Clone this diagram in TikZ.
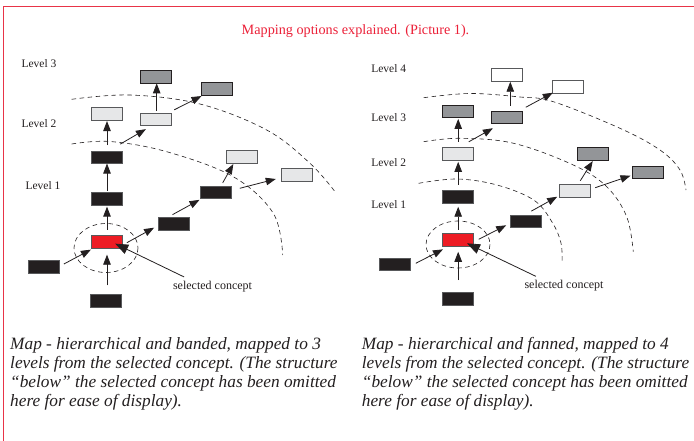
\documentclass[tikz,border=0pt]{standalone}
\usepackage{fontspec}
\setmainfont{Liberation Serif}
\usetikzlibrary{arrows.meta,calc}
\definecolor{framered}{RGB}{232,52,72}
\definecolor{titlered}{RGB}{236,32,56}
\definecolor{ink}{RGB}{35,31,32}
\definecolor{boxblack}{RGB}{35,31,32}
\definecolor{boxlight}{RGB}{230,231,232}
\definecolor{boxgray}{RGB}{147,149,152}
\definecolor{boxred}{RGB}{237,28,36}
\definecolor{edgegray}{RGB}{88,89,91}
\begin{document}
\begin{tikzpicture}[x=1pt,y=-1pt,
  cbox/.style={draw=edgegray, line width=0.7pt, minimum width=31pt, minimum height=12.7pt, inner sep=0pt, outer sep=0pt},
  blk/.style={cbox, fill=boxblack},
  lgt/.style={cbox, fill=boxlight},
  gry/.style={cbox, fill=boxgray, draw=ink},
  wht/.style={cbox, fill=white},
  rdb/.style={cbox, fill=boxred},
  arr/.style={draw=ink, line width=0.8pt, -{Triangle[length=10pt,width=7.5pt]}},
  bigarr/.style={draw=ink, line width=0.8pt, -{Triangle[length=13pt,width=10pt]}},
  band/.style={draw=ink, dash pattern=on 4.5pt off 3.5pt, line width=0.6pt},
  lvl/.style={font=\fontsize{11.5}{13}\selectfont, text=ink, inner sep=0pt},
  capt/.style={font=\fontsize{17.3}{19.2}\selectfont\itshape, text=ink, align=left, anchor=north west, inner sep=0pt},
]
\useasboundingbox (0,0) rectangle (694,441);
\fill[white] (0,0) rectangle (694,441);
\draw[framered, line width=1.3pt] (3.5,441) -- (3.5,6.5) -- (694,6.5);

\node[font=\fontsize{14.2}{16}\selectfont, text=titlered, inner sep=0pt] (title) at (355.5,30.7) {Mapping options explained. (Picture 1).};

% ---------------- left panel ----------------
\node[lvl] (l3L) at (39,63.3) {Level 3};
\node[lvl] (l2L) at (39,123.3) {Level 2};
\node[lvl] (l1L) at (43,185.7) {Level 1};

\draw[band] plot[smooth, tension=0.6] coordinates {(71.7,99.3) (130,95) (200,104) (266.7,130) (310,163.3) (335,191.7)};
\draw[band] plot[smooth, tension=0.6] coordinates {(71.7,144) (110,141.5) (166.7,151.7) (233.3,176.7) (273.3,213.3) (282.7,255)};
\draw[band] (106,248) ellipse[x radius=32, y radius=24.5];

\node[gry] (A3a) at (155.5,77) {};
\node[gry] (A3b) at (217,89) {};
\node[lgt] (A2a) at (107,114) {};
\node[lgt] (A2b) at (156,119.5) {};
\node[blk] (A1b) at (107,157.5) {};
\node[lgt] (Alc) at (242,156.7) {};
\node[lgt] (Ald) at (297,175) {};
\node[blk] (A1a) at (107,199) {};
\node[blk] (Abr) at (216,192.5) {};
\node[blk] (Abm) at (174.3,224) {};
\node[rdb] (AR) at (107,242) {};
\node[blk] (ABL) at (43.7,267) {};
\node[blk] (ABB) at (106.3,301) {};
\node[font=\fontsize{12}{14}\selectfont, text=ink, inner sep=0pt] (selL) at (212.5,287) {selected concept};

\draw[arr] ($(ABB.north)+(0.7,-9.3)$) -- ($(AR.south)+(0,6.3)$);
\draw[arr] ($(ABL.east)+(4.7,-3)$) -- ($(AR.south west)+(-0.6,1.3)$);
\draw[arr] ($(AR.north)+(0,-6)$) -- ($(A1a.south)+(0,1.3)$);
\draw[arr] ($(A1a.north)+(0,-2)$) -- ($(A1b.south)+(0,-0.3)$);
\draw[arr] ($(A1b.north)+(0,-6)$) -- ($(A2a.south)+(0,0.7)$);
\draw[arr] ($(A1b.north east)+(-2.3,-7)$) -- ($(A2b.south west)+(5.4,3.3)$);
\draw[arr] ($(A2b.north)+(0.7,-2.3)$) -- ($(A3a.south)+(1.2,0)$);
\draw[arr] ($(A2b.north east)+(2.7,-3.3)$) -- ($(A3b.south west)+(0,0.7)$);
\draw[arr] ($(AR.east)+(4.4,0.7)$) -- ($(Abm.west)+(-4.7,3.7)$);
\draw[arr] ($(Abm.north east)+(-17.3,-3)$) -- ($(Abr.south west)+(-1,1)$);
\draw[arr] ($(Abr.north)+(6.7,-3.3)$) -- ($(Alc.south)+(-8.7,1)$);
\draw[arr] ($(Abr.east)+(8.3,-4.2)$) -- ($(Ald.west)+(-5.7,4)$);
\draw[bigarr] ($(selL.north west)+(11.3,-4.4)$) -- ($(AR.south east)+(-7.3,-4.7)$);

% ---------------- right panel ----------------
\node[lvl] (l4R) at (388.7,68.3) {Level 4};
\node[lvl] (l3R) at (388.7,117.3) {Level 3};
\node[lvl] (l2R) at (388.7,162.3) {Level 2};
\node[lvl] (l1R) at (388.7,204.3) {Level 1};

\draw[band] plot[smooth, tension=0.6] coordinates {(423.7,97.7) (470,93.5) (520,97) (553.3,101.7) (620,128.3) (660,150) (680,170) (686,190)};
\draw[band] plot[smooth, tension=0.6] coordinates {(423.7,141.7) (460,138.3) (513.7,143.3) (573.3,165) (606.7,186.7) (626.7,216.7) (633.3,251.7)};
\draw[band] plot[smooth, tension=0.6] coordinates {(418.7,183.3) (457,179) (497,185) (533.7,200) (552,222) (561,243) (562,263.3)};
\draw[band] (458,244.5) ellipse[x radius=32, y radius=23.5];

\node[wht] (B4a) at (507,74.7) {};
\node[wht] (B4b) at (568.3,86.7) {};
\node[gry] (B3a) at (458.2,111.3) {};
\node[gry] (B3b) at (507,117.3) {};
\node[lgt] (B2a) at (458.2,154.2) {};
\node[gry] (Bgr) at (593,154) {};
\node[gry] (Bgrr) at (648,172.5) {};
\node[blk] (B1a) at (458.2,197) {};
\node[lgt] (Blr) at (574.7,190.7) {};
\node[blk] (Bbm) at (525.7,221.5) {};
\node[rdb] (BR) at (458.2,240) {};
\node[blk] (BBL) at (395,264.2) {};
\node[blk] (BBB) at (458.2,298.5) {};
\node[font=\fontsize{12}{14}\selectfont, text=ink, inner sep=0pt] (selR) at (564,285.7) {selected concept};

\draw[arr] ($(BBB.north)+(0,-12)$) -- ($(BR.south)+(0,5.4)$);
\draw[arr] ($(BBL.east)+(5.3,-0.9)$) -- ($(BR.south west)+(0.3,3)$);
\draw[arr] ($(BR.north)+(0,-3.7)$) -- ($(B1a.south)+(0,3.4)$);
\draw[arr] ($(B1a.north)+(0,-5.7)$) -- ($(B2a.south)+(0,1.3)$);
\draw[arr] ($(B2a.north)+(0,-6)$) -- ($(B3a.south)+(0,1.3)$);
\draw[arr] ($(B2a.north east)+(-5,-6)$) -- ($(B3b.south west)+(1.4,4.6)$);
\draw[arr] ($(B3b.north)+(3.3,-5)$) -- ($(B4a.south)+(3.3,0.7)$);
\draw[arr] ($(B3b.north east)+(3.3,-3.7)$) -- ($(B4b.south west)+(0,-0.3)$);
\draw[arr] ($(BR.east)+(5,-0.7)$) -- ($(Bbm.west)+(-4,3.8)$);
\draw[arr] ($(Bbm.north)+(5.6,-4)$) -- ($(Blr.south west)+(-2,-0.3)$);
\draw[arr] ($(Blr.north)+(5.6,-3.6)$) -- ($(Bgr.south)+(-0.3,0.7)$);
\draw[arr] ($(Blr.east)+(5,-3)$) -- ($(Bgrr.west)+(-2,3.2)$);
\draw[bigarr] ($(selR.north west)+(11.6,-3.7)$) -- ($(BR.south east)+(-6.7,-3)$);

% ---------------- captions ----------------
\node[capt] (capL) at (10,337) {Map - hierarchical and banded, mapped to 3\\levels from the selected concept. (The structure\\“below” the selected concept has been omitted\\here for ease of display).};
\node[capt] (capR) at (361.7,337) {Map - hierarchical and fanned, mapped to 4\\levels from the selected concept. (The structure\\“below” the selected concept has been omitted\\here for ease of display).};
\end{tikzpicture}
\end{document}
